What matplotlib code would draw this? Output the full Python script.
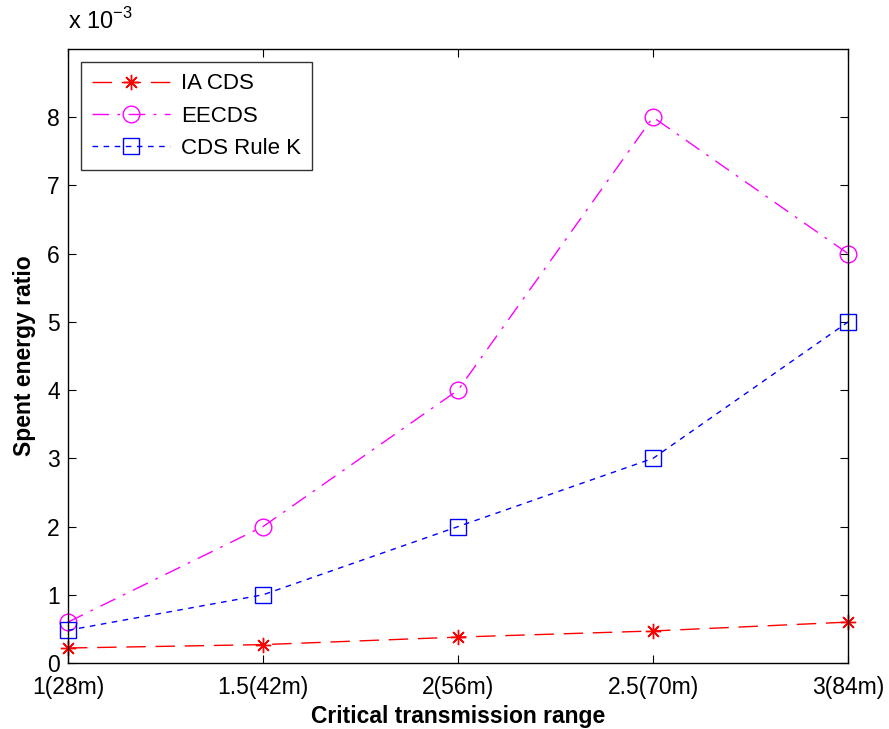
import matplotlib
matplotlib.use("Agg")
import matplotlib.pyplot as plt

plt.rcParams['font.family'] = ['Liberation Sans', 'DejaVu Sans']
plt.rcParams['mathtext.fontset'] = 'custom'
plt.rcParams['mathtext.rm'] = 'Liberation Sans'

x_labels = ["1(28m)", "1.5(42m)", "2(56m)", "2.5(70m)", "3(84m)"]
x_vals = [1, 1.5, 2, 2.5, 3]
# values in units of 1e-3
ia_cds = [0.22, 0.27, 0.38, 0.47, 0.60]
eecds = [0.60, 2.0, 4.0, 8.0, 6.0]
cds_rule_k = [0.48, 1.0, 2.0, 3.0, 5.0]

fig = plt.figure(figsize=(8.89, 7.29), dpi=100)
ax = fig.add_axes([0.0765, 0.0905, 0.8775, 0.8423])

ax.plot(x_vals, ia_cds, color='red', linestyle=(0, (14, 7)), linewidth=1,
        marker=(8, 2, 0), markersize=11, markerfacecolor='red', markeredgecolor='red',
        markeredgewidth=1, label='IA CDS', clip_on=False)
ax.plot(x_vals, eecds, color='magenta', linestyle=(0, (12, 6, 2, 6)), linewidth=1,
        marker='o', markersize=12, markerfacecolor='none', markeredgecolor='magenta',
        label='EECDS', clip_on=False)
ax.plot(x_vals, cds_rule_k, color='blue', linestyle=(0, (4, 4)), linewidth=1,
        marker='s', markersize=12, markerfacecolor='none', markeredgecolor='blue',
        label='CDS Rule K', clip_on=False)

ax.set_xlim(1, 3)
ax.set_ylim(0, 9)
ax.set_xticks(x_vals)
ax.set_xticklabels(x_labels)
ax.set_yticks(range(0, 9))
ax.tick_params(direction='in', top=True, right=True, labelsize=16.5, length=6)
ax.tick_params(axis='x', pad=9)
ax.tick_params(axis='y', pad=6)
for s in ax.spines.values():
    s.set_linewidth(1)

ax.set_xlabel('Critical transmission range', fontsize=16.5, fontweight='bold', labelpad=5)
ax.set_ylabel('Spent energy ratio', fontsize=16.5, fontweight='bold', labelpad=8)
ax.text(0.0, 1.025, r'x 10$^{-3}$', transform=ax.transAxes, fontsize=17,
        ha='left', va='bottom')

leg = ax.legend(loc='upper left', fontsize=16, frameon=True, fancybox=False,
                edgecolor='black', borderaxespad=0.6, handlelength=3.5,
                borderpad=0.5, labelspacing=0.5, handletextpad=0.5)
leg.get_frame().set_linewidth(1)

fig.savefig('out.png', dpi=100)
